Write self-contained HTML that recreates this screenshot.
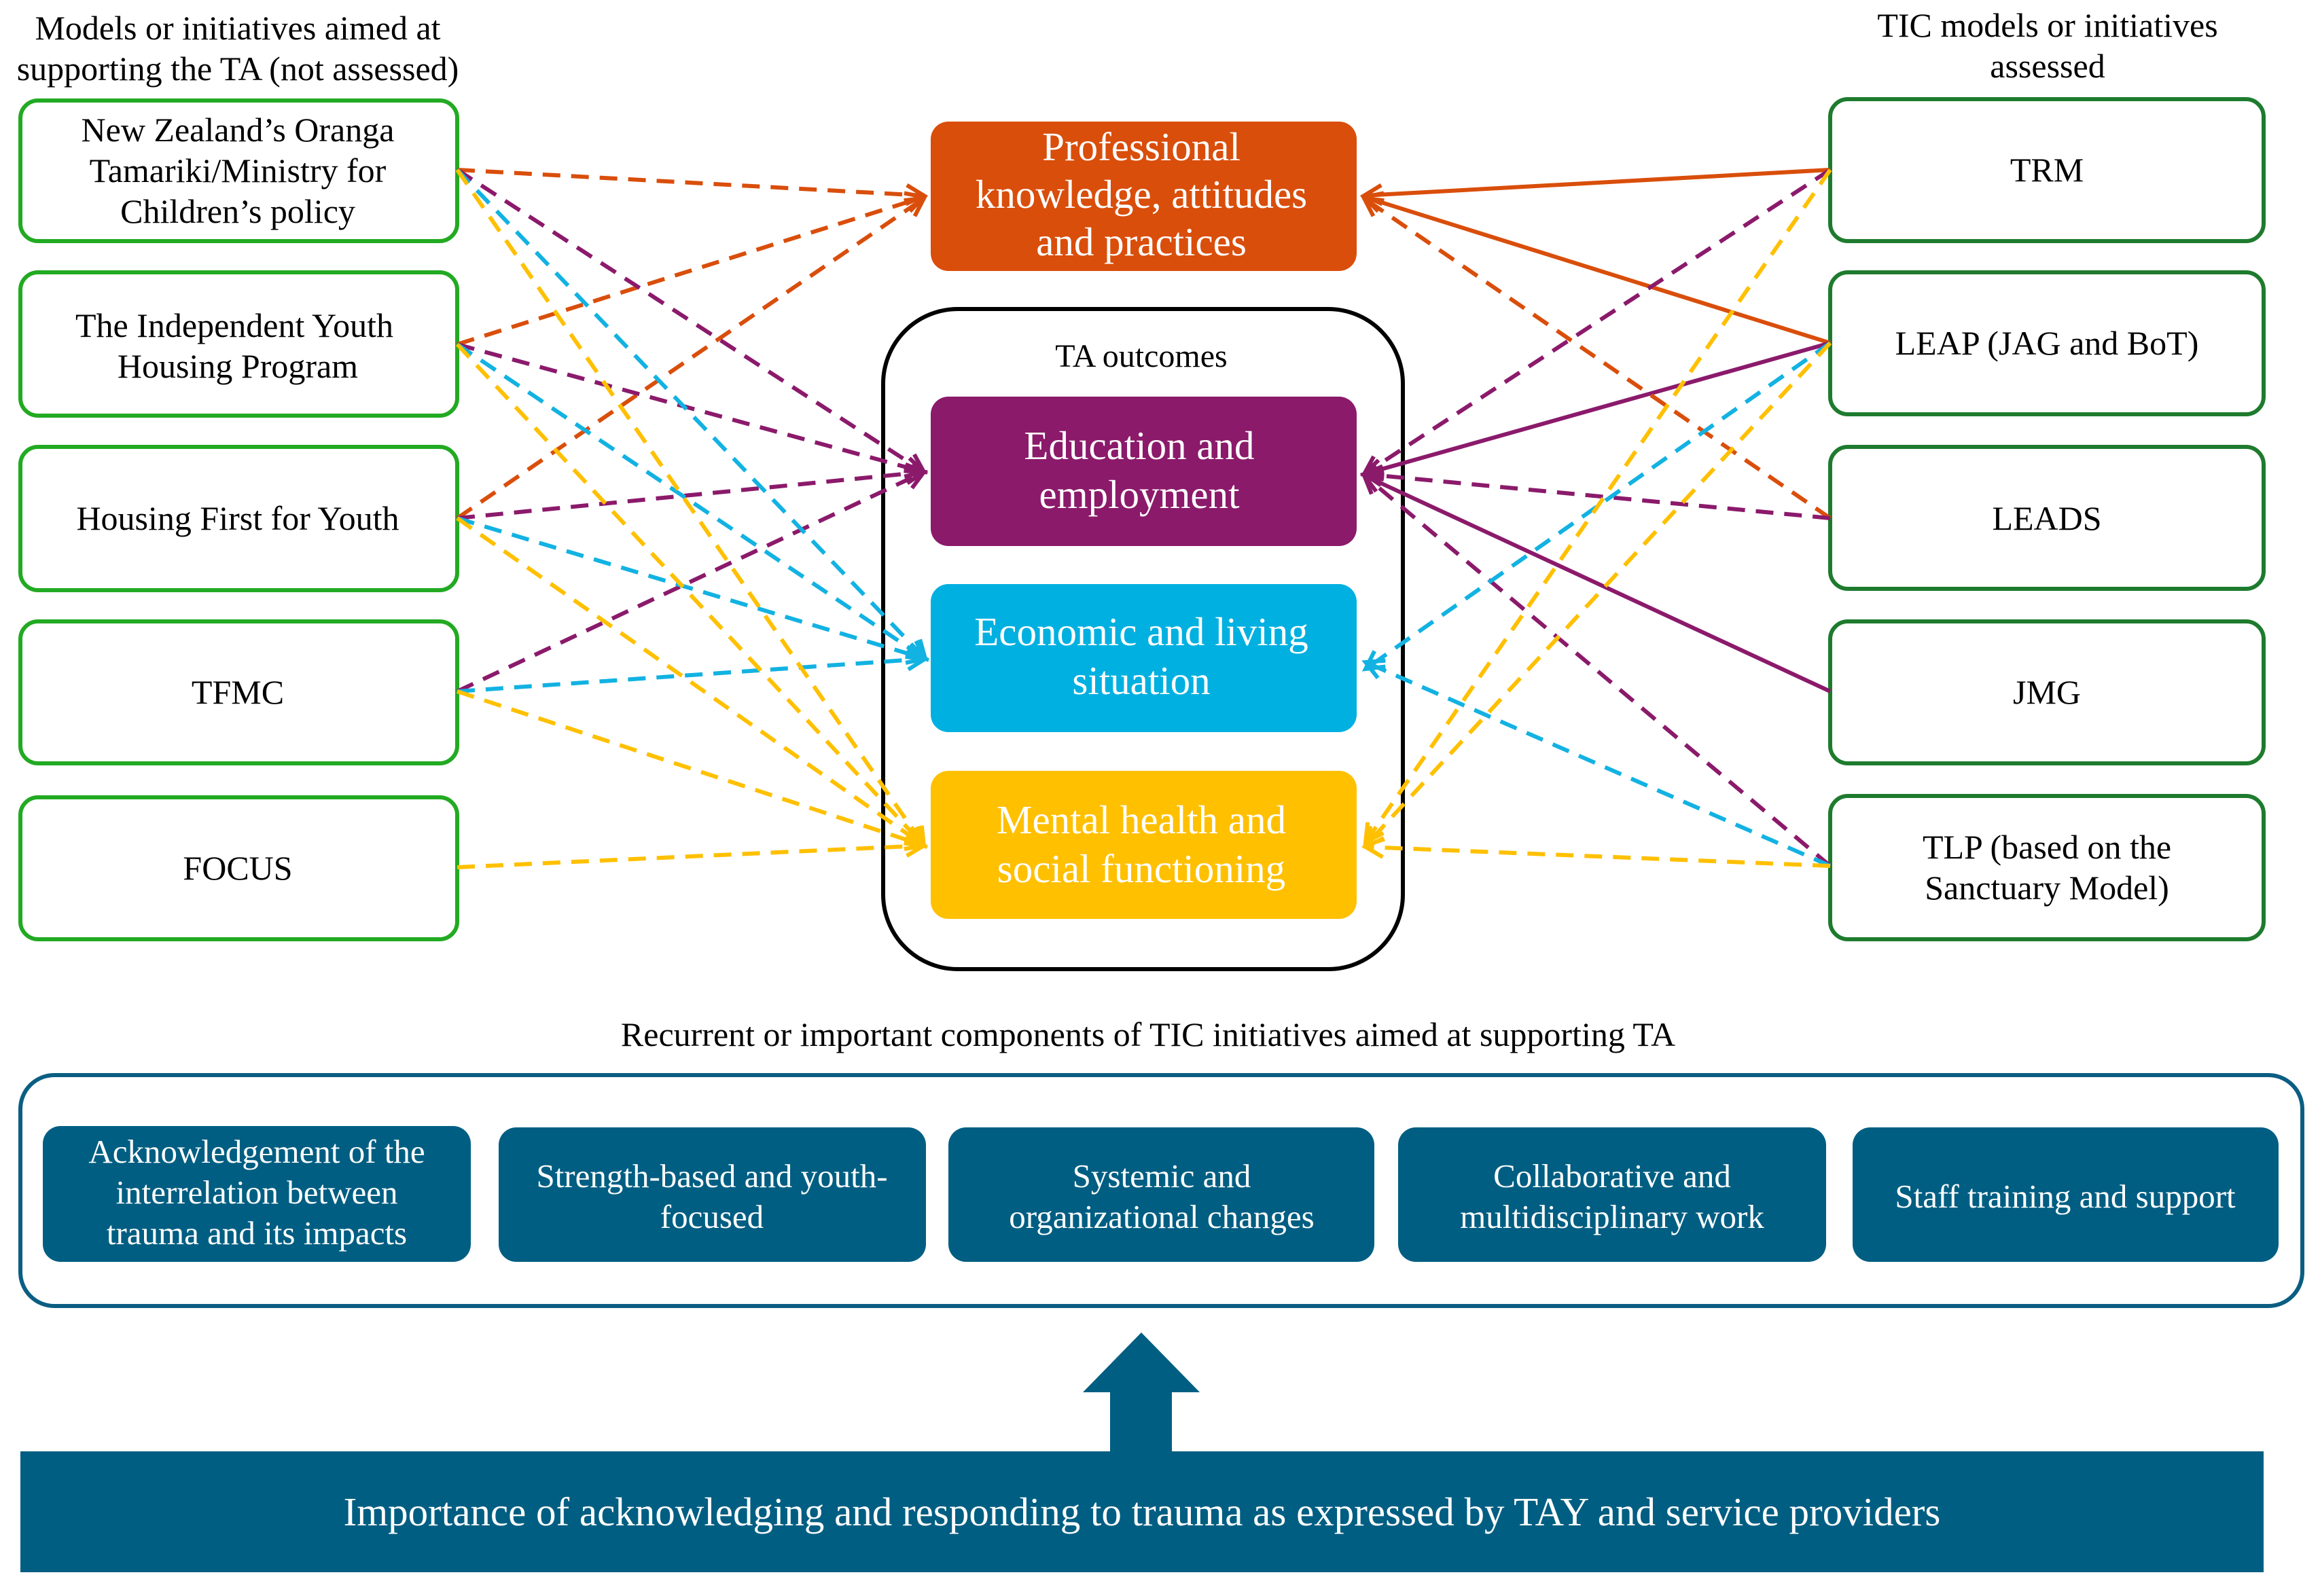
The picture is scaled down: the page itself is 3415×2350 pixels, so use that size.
<!DOCTYPE html>
<html><head><meta charset="utf-8"><style>
html,body{margin:0;padding:0;background:#fff;}
svg{display:block;}
text{font-family:"Liberation Serif",serif;}
</style></head><body>
<svg width="3415" height="2350" viewBox="0 0 3415 2350" xmlns="http://www.w3.org/2000/svg">
<defs>
<marker id="ao" markerUnits="userSpaceOnUse" markerWidth="40" markerHeight="40" refX="30" refY="20" orient="auto"><path d="M4,6 L30,20 L4,34" fill="none" stroke="#D94E0B" stroke-width="6"/></marker>
<marker id="ap" markerUnits="userSpaceOnUse" markerWidth="40" markerHeight="40" refX="30" refY="20" orient="auto"><path d="M4,6 L30,20 L4,34" fill="none" stroke="#8B1A6B" stroke-width="6"/></marker>
<marker id="ac" markerUnits="userSpaceOnUse" markerWidth="40" markerHeight="40" refX="30" refY="20" orient="auto"><path d="M4,6 L30,20 L4,34" fill="none" stroke="#12B2E2" stroke-width="6"/></marker>
<marker id="ay" markerUnits="userSpaceOnUse" markerWidth="40" markerHeight="40" refX="30" refY="20" orient="auto"><path d="M4,6 L30,20 L4,34" fill="none" stroke="#FFC000" stroke-width="6"/></marker>
</defs>

<!-- headings -->
<text x="350" y="58" font-size="50" text-anchor="middle">Models or initiatives aimed at</text>
<text x="350" y="118" font-size="50" text-anchor="middle">supporting the TA (not assessed)</text>
<text x="3014" y="54" font-size="50" text-anchor="middle">TIC models or initiatives</text>
<text x="3014" y="114" font-size="50" text-anchor="middle">assessed</text>

<!-- left boxes -->
<g fill="#fff" stroke="#22AA22" stroke-width="6">
<rect x="30" y="148" width="643" height="207" rx="26"/>
<rect x="30" y="401" width="643" height="211" rx="26"/>
<rect x="30" y="658" width="643" height="211" rx="26"/>
<rect x="30" y="915" width="643" height="209" rx="26"/>
<rect x="30" y="1174" width="643" height="209" rx="26"/>
</g>
<g font-size="50" text-anchor="middle">
<text x="350" y="208">New Zealand’s  Oranga</text>
<text x="350" y="268">Tamariki/Ministry for</text>
<text x="350" y="328">Children’s policy</text>
<text x="345" y="496">The Independent Youth</text>
<text x="350" y="556">Housing Program</text>
<text x="350" y="780">Housing First for Youth</text>
<text x="350" y="1036">TFMC</text>
<text x="350" y="1295">FOCUS</text>
</g>

<!-- right boxes -->
<g fill="#fff" stroke="#1E7B2E" stroke-width="6">
<rect x="2694" y="146" width="638" height="209" rx="26"/>
<rect x="2694" y="401" width="638" height="209" rx="26"/>
<rect x="2694" y="658" width="638" height="209" rx="26"/>
<rect x="2694" y="915" width="638" height="209" rx="26"/>
<rect x="2694" y="1172" width="638" height="211" rx="26"/>
</g>
<g font-size="50" text-anchor="middle">
<text x="3013" y="267">TRM</text>
<text x="3013" y="522">LEAP (JAG and  BoT)</text>
<text x="3013" y="780">LEADS</text>
<text x="3013" y="1036">JMG</text>
<text x="3013" y="1264">TLP (based on the</text>
<text x="3013" y="1324">Sanctuary Model)</text>
</g>

<!-- center -->
<rect x="1300" y="455" width="765" height="972" rx="110" fill="none" stroke="#000" stroke-width="6"/>
<text x="1680" y="540" font-size="48" text-anchor="middle">TA outcomes</text>
<rect x="1370" y="179" width="627" height="220" rx="26" fill="#D94E0B"/>
<rect x="1370" y="584" width="627" height="220" rx="26" fill="#8B1A6B"/>
<rect x="1370" y="860" width="627" height="218" rx="26" fill="#00B0E0"/>
<rect x="1370" y="1135" width="627" height="218" rx="26" fill="#FFC000"/>
<g font-size="59" text-anchor="middle" fill="#fff">
<text x="1680" y="236">Professional</text>
<text x="1680" y="306">knowledge, attitudes</text>
<text x="1680" y="376">and practices</text>
<text x="1677" y="676">Education and</text>
<text x="1677" y="748">employment</text>
<text x="1680" y="950">Economic and living</text>
<text x="1680" y="1022">situation</text>
<text x="1680" y="1227">Mental health and</text>
<text x="1680" y="1299">social functioning</text>
</g>

<!-- left connectors -->
<g fill="none" stroke-width="6" stroke-dasharray="26 16">
<path d="M673,250 L1360,288" stroke="#D94E0B" marker-end="url(#ao)"/>
<path d="M673,507 L1360,290" stroke="#D94E0B" marker-end="url(#ao)"/>
<path d="M673,763 L1360,292" stroke="#D94E0B" marker-end="url(#ao)"/>
<path d="M673,250 L1360,695" stroke="#8B1A6B" marker-end="url(#ap)"/>
<path d="M673,507 L1360,695" stroke="#8B1A6B" marker-end="url(#ap)"/>
<path d="M673,763 L1360,695" stroke="#8B1A6B" marker-end="url(#ap)"/>
<path d="M673,1018 L1360,695" stroke="#8B1A6B" marker-end="url(#ap)"/>
<path d="M673,250 L1362,970" stroke="#12B2E2" marker-end="url(#ac)"/>
<path d="M673,507 L1362,970" stroke="#12B2E2" marker-end="url(#ac)"/>
<path d="M673,763 L1362,970" stroke="#12B2E2" marker-end="url(#ac)"/>
<path d="M673,1018 L1362,970" stroke="#12B2E2" marker-end="url(#ac)"/>
<path d="M673,250 L1360,1245" stroke="#FFC000" marker-end="url(#ay)"/>
<path d="M673,507 L1360,1245" stroke="#FFC000" marker-end="url(#ay)"/>
<path d="M673,763 L1360,1245" stroke="#FFC000" marker-end="url(#ay)"/>
<path d="M673,1018 L1360,1245" stroke="#FFC000" marker-end="url(#ay)"/>
<path d="M673,1277 L1360,1245" stroke="#FFC000" marker-end="url(#ay)"/>
</g>

<!-- right connectors -->
<g fill="none" stroke-width="6">
<path d="M2694,250 L2008,288" stroke="#D94E0B" marker-end="url(#ao)"/>
<path d="M2694,505 L2008,290" stroke="#D94E0B" marker-end="url(#ao)"/>
<path d="M2694,505 L2008,698" stroke="#8B1A6B" marker-end="url(#ap)"/>
<path d="M2694,1018 L2008,700" stroke="#8B1A6B" marker-end="url(#ap)"/>
</g>
<g fill="none" stroke-width="6" stroke-dasharray="26 16">
<path d="M2694,763 L2008,292" stroke="#D94E0B" marker-end="url(#ao)"/>
<path d="M2694,250 L2008,698" stroke="#8B1A6B" marker-end="url(#ap)"/>
<path d="M2694,763 L2008,698" stroke="#8B1A6B" marker-end="url(#ap)"/>
<path d="M2694,1275 L2008,700" stroke="#8B1A6B" marker-end="url(#ap)"/>
<path d="M2694,505 L2010,985" stroke="#12B2E2" marker-end="url(#ac)"/>
<path d="M2694,1275 L2010,975" stroke="#12B2E2" marker-end="url(#ac)"/>
<path d="M2694,250 L2010,1240" stroke="#FFC000" marker-end="url(#ay)"/>
<path d="M2694,505 L2010,1245" stroke="#FFC000" marker-end="url(#ay)"/>
<path d="M2694,1275 L2010,1247" stroke="#FFC000" marker-end="url(#ay)"/>
</g>

<!-- bottom -->
<text x="1690" y="1540" font-size="50" text-anchor="middle">Recurrent or important components of TIC initiatives aimed at supporting TA</text>
<rect x="30" y="1583" width="3359" height="340" rx="50" fill="none" stroke="#0B5E82" stroke-width="6"/>
<g fill="#005E82">
<rect x="63" y="1658" width="630" height="200" rx="26"/>
<rect x="734" y="1660" width="629" height="198" rx="26"/>
<rect x="1396" y="1660" width="627" height="198" rx="26"/>
<rect x="2058" y="1660" width="630" height="198" rx="26"/>
<rect x="2727" y="1660" width="627" height="198" rx="26"/>
</g>
<g font-size="49" text-anchor="middle" fill="#fff">
<text x="378" y="1712">Acknowledgement of the</text>
<text x="378" y="1772">interrelation between</text>
<text x="378" y="1832">trauma and its impacts</text>
<text x="1048" y="1748">Strength-based and youth-</text>
<text x="1048" y="1808">focused</text>
<text x="1710" y="1748">Systemic and</text>
<text x="1710" y="1808">organizational changes</text>
<text x="2373" y="1748">Collaborative and</text>
<text x="2373" y="1808">multidisciplinary work</text>
<text x="3040" y="1778">Staff training and support</text>
</g>
<polygon points="1680,1962 1766,2050 1725,2050 1725,2140 1634,2140 1634,2050 1594,2050" fill="#005E82"/>
<rect x="30" y="2137" width="3302" height="178" fill="#005E82"/>
<text x="1681" y="2246" font-size="59" text-anchor="middle" fill="#fff">Importance of acknowledging and responding to trauma as expressed by TAY and service providers</text>
</svg>
</body></html>
